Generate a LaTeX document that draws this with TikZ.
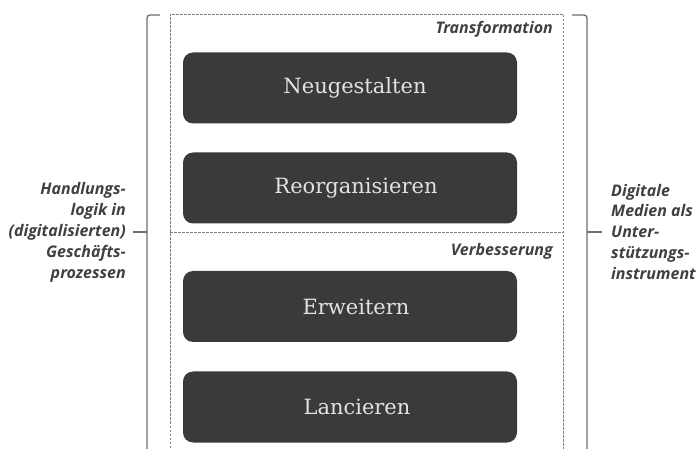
\documentclass[tikz,border=0pt]{standalone}
\usepackage{fontspec}
\setmainfont{Liberation Serif}
\newfontfamily\sidefont{Open Sans}
\newfontfamily\boxfont{DejaVu Serif}
\definecolor{boxfill}{HTML}{3A3A3A}
\definecolor{boxtext}{HTML}{E2E2E2}
\definecolor{sidetext}{HTML}{404040}
\definecolor{linegray}{HTML}{6E6E6E}
\definecolor{dashgray}{HTML}{808080}
\begin{document}
\begin{tikzpicture}[x=1pt,y=-1pt,
  stagebox/.style={fill=boxfill, rounded corners=10pt, minimum width=334pt, minimum height=71pt, inner sep=0pt},
  stagetext/.style={text=boxtext, font=\fontsize{21}{24}\selectfont\boxfont, inner sep=0pt},
  sidelabel/.style={font=\fontsize{16}{21}\selectfont\sidefont\bfseries\itshape, text=sidetext, inner sep=0pt},
  grouplabel/.style={font=\fontsize{16}{18}\selectfont\sidefont\bfseries\itshape, text=sidetext, inner sep=0pt, anchor=east},
  brace/.style={draw=linegray, line width=1.3pt, rounded corners=3pt},
  dashline/.style={draw=dashgray, line width=0.9pt, dash pattern=on 2.5pt off 1.5pt}
]
\useasboundingbox (0,0) rectangle (697,449);
\clip (0,0) rectangle (697,449);

% dashed frame
\coordinate (fTL) at (170,14);
\coordinate (fTR) at (563,14);
\coordinate (fBL) at (170,460);
\coordinate (fBR) at (563,460);
\coordinate (sL) at (170,232);
\coordinate (sR) at (563,232);
\draw[dashline] (fBL) -- (fTL) -- (fTR) -- (fBR);
\draw[dashline] (sL) -- (sR);

\node[grouplabel] (trans) at (553,29) {Transformation};
\node[grouplabel] (verb) at (553,251) {Verbesserung};

% boxes
\node[stagebox] (n1) at (350,88) {};
\node[stagebox] (n2) at (350,188) {};
\node[stagebox] (n3) at (350,306.5) {};
\node[stagebox] (n4) at (350,407) {};
\node[stagetext] (t1) at ([xshift=5pt]n1.center) {Neugestalten};
\node[stagetext] (t2) at ([xshift=6pt]n2.center) {Reorganisieren};
\node[stagetext] (t3) at ([xshift=6pt]n3.center) {Erweitern};
\node[stagetext] (t4) at ([xshift=7pt]n4.center) {Lancieren};

% left bracket
\coordinate (lT) at (160,15);
\coordinate (lC) at (147,15);
\coordinate (lB) at (147,460);
\coordinate (lM) at (147,232);
\coordinate (lTick) at (133,232);
\draw[brace] (lT) -- (lC) -- (lB);
\draw[draw=linegray, line width=1.3pt] (lM) -- (lTick);

% right bracket
\coordinate (rT) at (572,15);
\coordinate (rC) at (587,15);
\coordinate (rB) at (587,460);
\coordinate (rM) at (587,232);
\coordinate (rTick) at (602,232);
\draw[brace] (rT) -- (rC) -- (rB);
\draw[draw=linegray, line width=1.3pt] (rM) -- (rTick);

% side texts
\node[sidelabel, anchor=east, align=right] (left) at (126,232)
  {Handlungs-\\logik in\\(digitalisierten)\\Geschäfts-\\prozessen};
\node[sidelabel, anchor=west, align=left] (right) at (611,232)
  {Digitale\\Medien als\\Unter-\\stützungs-\\instrument};
\end{tikzpicture}
\end{document}
